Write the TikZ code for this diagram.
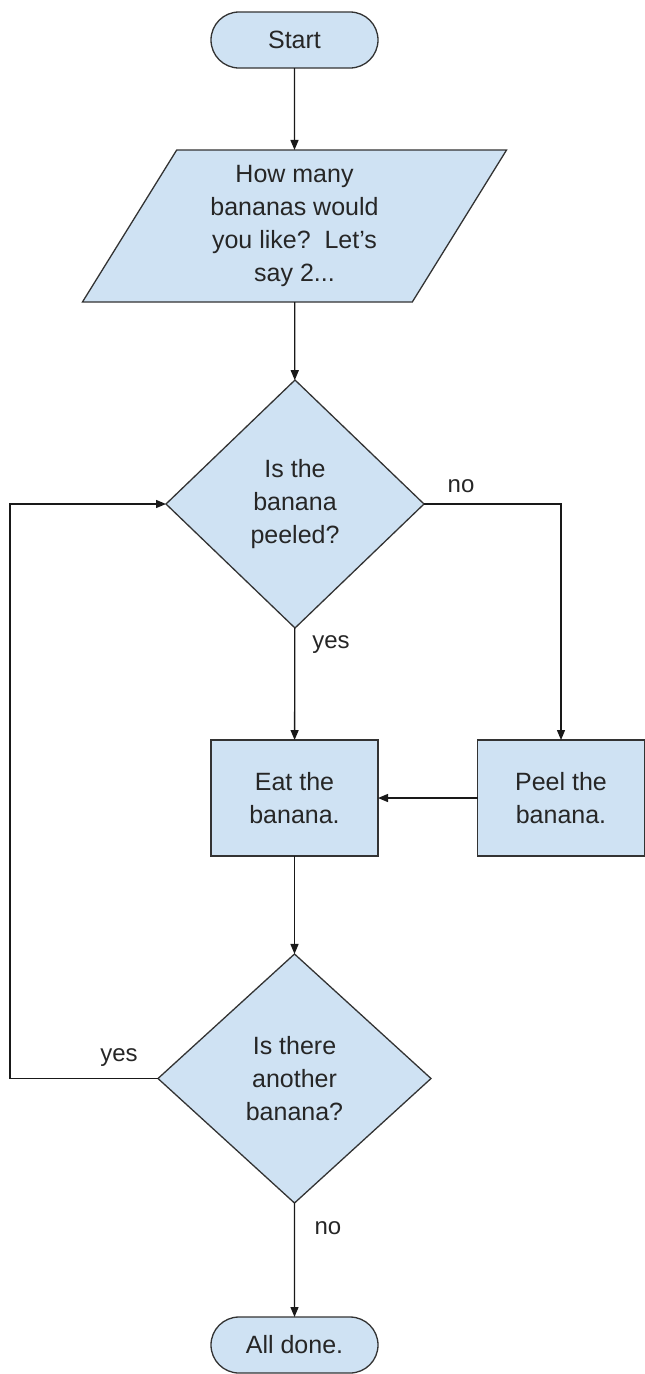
\documentclass[tikz,border=0pt]{standalone}
\usepackage{fontspec}
\setmainfont{Liberation Sans}
\usetikzlibrary{shapes.geometric,shapes.misc,arrows.meta}
\definecolor{fillblue}{HTML}{CFE2F3}
\definecolor{linegray}{HTML}{333333}
\begin{document}
\begin{tikzpicture}[x=1pt,y=1pt]
\tikzset{
 base/.style={draw=linegray, line width=1.3pt, fill=fillblue, font=\fontsize{25}{33}\selectfont, text=black!85, align=center, inner sep=0pt, outer sep=0pt},
 term/.style={base, rounded rectangle, minimum width=167pt, minimum height=56pt},
 io/.style={base, trapezium, trapezium left angle=61, trapezium right angle=119, trapezium stretches=true, minimum width=425pt, minimum height=152pt},
 proc/.style={base, rectangle, minimum width=167pt, minimum height=116pt},
 dec/.style={base, diamond, minimum width=258pt, minimum height=248pt},
 conn/.style={draw=black!90, line width=1.3pt, -{Triangle[length=10pt,width=8pt]}},
 lbl/.style={font=\fontsize{24}{28}\selectfont, text=black!85}
}
\useasboundingbox (0,0) rectangle (645,-1374);
\node[term] (start) at (294.5,-40) {Start};
\node[io] (ask) at (294.5,-226) {How many\\bananas would\\you like?~~Let’s\\say 2...};
\node[dec] (d1) at (295,-504) {Is the\\banana\\peeled?};
\node[proc] (eat) at (294.5,-798) {Eat the\\banana.};
\node[proc] (peel) at (561,-798) {Peel the\\banana.};
\node[dec, minimum width=273pt, minimum height=249pt] (d2) at (294.5,-1078.5) {Is there\\another\\banana?};
\node[term] (done) at (294.5,-1345) {All done.};
\coordinate (lp) at (10,-1078.5);

\draw[conn] (start) -- (ask);
\draw[conn] (ask) -- (d1);
\draw[conn] (d1.east) -| (peel.north);
\draw[conn] (peel) -- (eat);
\draw[conn] (d1) -- (eat);
\draw[conn] (eat) -- (d2);
\draw[conn] (d2.west) -- (lp) |- (d1.west);
\draw[conn] (d2) -- (done);

\node[lbl] (lno1) at (461,-486) {no};
\node[lbl] (lyes1) at (331,-645) {yes};
\node[lbl] (lyes2) at (119,-1058) {yes};
\node[lbl] (lno2) at (328,-1228) {no};
\end{tikzpicture}
\end{document}
